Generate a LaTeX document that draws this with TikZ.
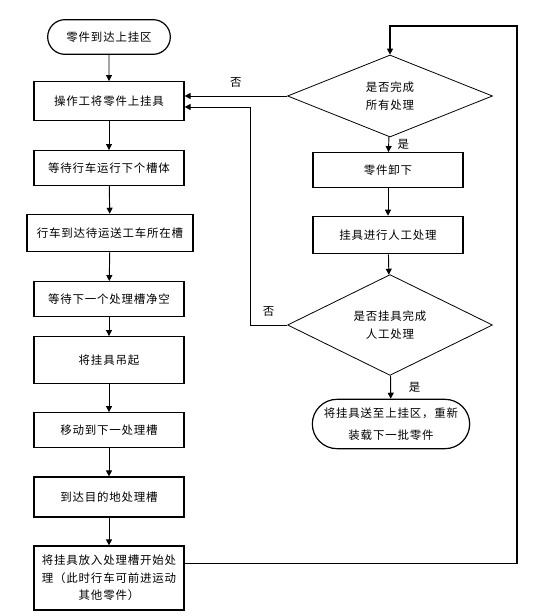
\documentclass[tikz,border=0pt]{standalone}
\usepackage{fontspec}
\newfontfamily\cjk[LetterSpace=7]{Noto Sans CJK SC}
\usetikzlibrary{arrows.meta,positioning,shapes.geometric,shapes.misc,calc}

\begin{document}
\begin{tikzpicture}[x=0.75pt,y=-0.75pt,font=\cjk\fontsize{8.6pt}{13pt}\selectfont,
  box/.style={draw,line width=0.9pt,minimum width=112.5pt,minimum height=27pt,align=center,inner sep=1pt},
  term/.style={draw,rounded rectangle,line width=0.9pt,align=center,inner sep=1pt},
  ask/.style={draw,diamond,line width=0.6pt,minimum width=153.75pt,minimum height=61.5pt,inner sep=0pt,align=center},
  arr/.style={-{Triangle[length=4.5pt,width=4.5pt]},line width=0.7pt}]
  \useasboundingbox (0,0) rectangle (538,616);
  % left column
  \node[term,minimum width=94pt,minimum height=26pt] (start) at (109,37) {零件到达上挂区};
  \node[box,minimum height=29pt] (load) at (109,101) {操作工将零件上挂具};
  \node[box,minimum height=26pt] (wait1) at (109,168) {等待行车运行下个槽体};
  \node[box,minimum width=124.5pt,minimum height=28pt] (arrive) at (110,233) {行车到达待运送工车所在槽};
  \node[box,minimum height=26pt] (clear) at (109,299) {等待下一个处理槽净空};
  \node[box,minimum height=35pt] (lift) at (109,360) {将挂具吊起};
  \node[box,minimum height=26pt] (move) at (109,430) {移动到下一处理槽};
  \node[box,minimum height=30pt] (reach) at (109,497) {到达目的地处理槽};
  \node[box,minimum height=48pt] (place) at (109,578) {将挂具放入处理槽开始处\\理（此时行车可前进运动\\其他零件）};
  % right column
  \node[ask] (q1) at (390,96) {是否完成\\所有处理};
  \node[box,minimum height=26pt] (unload) at (388,170) {零件卸下};
  \node[box,minimum height=28pt] (manual) at (388,235) {挂具进行人工处理};
  \node[ask] (q2) at (390,325) {是否挂具完成\\人工处理};
  \node[term,minimum width=120pt,minimum height=37pt,font=\cjk\fontsize{8.6pt}{17pt}\selectfont] (finish) at (391,424) {将挂具送至上挂区，重新\\装载下一批零件};
  \coordinate (rtop) at (517,26);
  \coordinate (back) at (250,107);
  \draw[arr] (start)--(load);
  \draw[arr] (load)--(wait1);
  \draw[arr] (wait1)--(arrive);
  \draw[arr] (arrive)--(clear);
  \draw[arr] (clear)--(lift);
  \draw[arr] (lift)--(move);
  \draw[arr] (move)--(reach);
  \draw[arr] (reach)--(place);
  \draw[arr,line width=1pt] ([yshift=11pt]place.east) -| (rtop) -| (q1.north);
  \draw[arr] (q1.west)--(q1.west -| load.east) node[midway,above=3pt]{否};
  \draw[arr] (q1)--(unload) node[midway,right=3pt]{是};
  \draw[arr] (unload)--(manual);
  \draw[arr] (manual)--(q2);
  \draw[arr] (q2.west) -| (back) node[pos=0.25,above=3pt]{否} -- (back -| load.east);
  \draw[arr] (q2)--(finish) node[midway,right=10pt]{是};
\end{tikzpicture}
\end{document}
